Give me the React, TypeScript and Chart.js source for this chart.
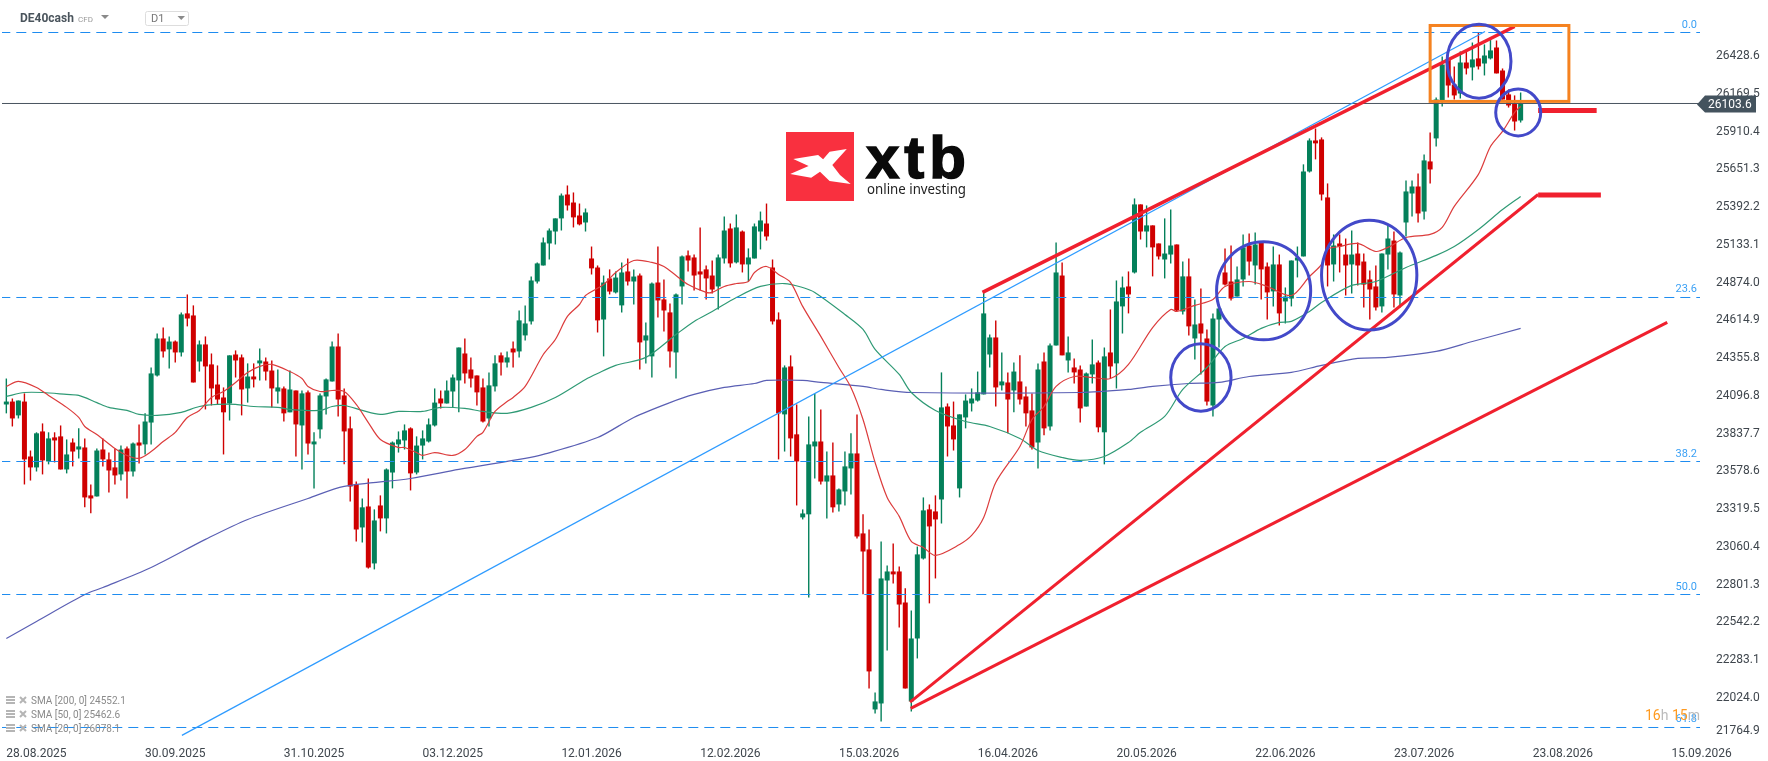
import { useEffect, useRef } from 'react';
import { Chart, registerables } from 'chart.js';

Chart.register(...registerables);

const opens = [
  24038, 24058, 23963, 24058, 23681, 23606, 23853, 23647, 23812, 23819,
  23592, 23777, 23729, 23743, 23414, 23407, 23729, 23661, 23606, 23558,
  23736, 23578, 23777, 23764, 23914, 24237, 24491, 24416, 24470, 24395,
  24663, 24649, 24333, 24450, 24313, 24175, 24086, 24045, 24381, 24361,
  24148, 24230, 24320, 24333, 24271, 24127, 24148, 23984, 24134, 23894,
  24121, 23764, 23867, 24093, 24196, 24436, 24100, 23874, 23489, 23194,
  23338, 22947, 23345, 23256, 23571, 23764, 23791, 23874, 23571, 23756,
  23784, 23894, 24079, 24045, 24127, 24203, 24388, 24278, 24237, 24155,
  23942, 24162, 24375, 24326, 24422, 24402, 24512, 24608, 24882, 24992,
  25143, 25225, 25315, 25479, 25424, 25335, 25287, 25040, 24978, 24621,
  24903, 24807, 24718, 24951, 24882, 24923, 24477, 24368, 24875, 24759,
  24670, 24395, 24848, 25061, 25047, 24951, 24965, 24923, 24848, 25040,
  25246, 25013, 25225, 24999, 25040, 25225, 25280, 24978, 24621, 23970,
  24299, 23833, 23263, 23284, 23750, 23784, 23509, 23551, 23352, 23441,
  23599, 23702, 23153, 23043, 21945, 21986, 22830, 22892, 22892, 22679,
  22000, 22432, 22981, 23318, 23304, 23386, 24024, 23894, 23462, 23949,
  24045, 24065, 24107, 24381, 24498, 24169, 24189, 24134, 24196, 24093,
  23997, 23777, 24333, 23887, 24443, 24923, 24340, 24292, 24278, 24024,
  24244, 24326, 23847, 24395, 24320, 24711, 24848, 24944, 25411, 25225,
  25267, 25143, 25033, 25067, 25136, 24676, 24917, 24491, 24594, 24491,
  24031, 24621, 24944, 24882, 24779, 24896, 25129, 24992, 25157, 24985,
  24814, 24999, 24745, 24765, 25026, 25054, 25637, 25850, 25857, 25459,
  24999, 25143, 25067, 24999, 25074, 25019, 24896, 24848, 24711, 25067,
  25163, 24786, 25287, 25486, 25534, 25362, 25706, 25864, 26124, 26406,
  26234, 26172, 26385, 26351, 26413, 26378, 26413, 26488, 26330, 26166,
  26104, 25987,
];
const highs = [
  24216, 24079, 24065, 24114, 23722, 23847, 23908, 23847, 23847, 23894,
  23798, 23805, 23874, 23805, 23489, 23736, 23805, 23708, 23736, 23756,
  23750, 23777, 23901, 23977, 24292, 24525, 24566, 24505, 24477, 24670,
  24793, 24718, 24477, 24505, 24388, 24306, 24155, 24375, 24409, 24381,
  24320, 24320, 24422, 24361, 24340, 24278, 24162, 24271, 24134, 24134,
  24134, 23847, 24114, 24216, 24470, 24525, 24148, 23956, 23509, 23393,
  23530, 23318, 23414, 23599, 23784, 23853, 23901, 23881, 23819, 23860,
  23942, 24148, 24134, 24203, 24244, 24429, 24491, 24361, 24237, 24216,
  24258, 24375, 24395, 24402, 24470, 24683, 24718, 24916, 25013, 25184,
  25246, 25315, 25486, 25541, 25493, 25417, 25383, 25122, 24992, 24923,
  24965, 24951, 25013, 25040, 24965, 24937, 24601, 24875, 25122, 24896,
  24731, 24800, 25061, 25095, 25067, 25253, 24992, 25026, 25067, 25328,
  25280, 25342, 25232, 25109, 25280, 25362, 25417, 25033, 24670, 24306,
  24375, 24038, 23318, 23956, 24114, 24004, 23715, 23777, 23462, 23715,
  23840, 23970, 23284, 23180, 22062, 23098, 22933, 23084, 22926, 22776,
  22624, 23063, 23400, 23352, 23414, 24258, 24045, 24058, 23970, 24107,
  24148, 24264, 24807, 24518, 24615, 24395, 24258, 24326, 24375, 24162,
  24114, 24320, 24395, 24457, 25150, 25013, 24505, 24354, 24306, 24258,
  24484, 24340, 24429, 24690, 24889, 24916, 24951, 25452, 25411, 25404,
  25267, 25143, 25315, 25376, 25136, 25019, 25040, 24759, 24834, 24553,
  24663, 24724, 25109, 25129, 24985, 25205, 25211, 25218, 25157, 25013,
  25122, 25067, 24841, 25026, 25122, 25686, 25864, 25932, 25871, 25555,
  25205, 25205, 25177, 25232, 25150, 25074, 24958, 24992, 25074, 25267,
  25225, 25088, 25575, 25575, 25623, 25754, 25905, 26145, 26426, 26406,
  26358, 26461, 26461, 26522, 26591, 26509, 26556, 26536, 26344, 26200,
  26159, 26179,
];
const lows = [
  23977, 23887, 23942, 23489, 23516, 23578, 23558, 23627, 23640, 23592,
  23565, 23613, 23668, 23332, 23291, 23407, 23613, 23434, 23489, 23516,
  23393, 23544, 23633, 23695, 23764, 24230, 24361, 24285, 24326, 24368,
  24574, 24189, 24264, 24004, 24031, 24038, 23695, 23928, 24223, 23963,
  24051, 24155, 24203, 24203, 24018, 24045, 23921, 23984, 23681, 23592,
  23695, 23462, 23805, 23970, 24196, 23956, 23627, 23372, 23098, 23091,
  22912, 22906, 23167, 23153, 23462, 23708, 23729, 23448, 23558, 23661,
  23777, 23887, 24011, 24045, 24018, 23984, 24182, 24155, 24031, 23914,
  23887, 24127, 24237, 24292, 24292, 24361, 24477, 24587, 24868, 24992,
  25033, 25136, 25232, 25369, 25253, 25267, 25225, 24930, 24532, 24368,
  24793, 24800, 24670, 24855, 24724, 24278, 24320, 24223, 24635, 24539,
  24292, 24216, 24724, 24951, 24820, 24820, 24759, 24800, 24690, 25006,
  24978, 25006, 24944, 24882, 25040, 25102, 25163, 24587, 23661, 23715,
  23681, 23345, 23249, 22714, 23530, 23489, 23256, 23297, 23304, 23345,
  23421, 23118, 22735, 22089, 21918, 21863, 22350, 22810, 22508, 22089,
  21931, 22295, 22974, 22673, 22844, 23221, 23681, 23722, 23400, 23874,
  23990, 24058, 24107, 24292, 24024, 24134, 23840, 23984, 24038, 23887,
  23729, 23599, 23826, 23860, 24443, 24375, 24258, 24182, 23914, 24024,
  24182, 23847, 23627, 24216, 24148, 24525, 24663, 24937, 25170, 25116,
  24917, 25033, 24903, 25006, 24676, 24656, 24512, 24347, 24244, 24031,
  23956, 24429, 24855, 24752, 24779, 24848, 24923, 24861, 24759, 24621,
  24711, 24580, 24594, 24711, 24910, 25054, 25630, 25720, 25438, 24848,
  24882, 24944, 24786, 24800, 24855, 24704, 24621, 24683, 24670, 24965,
  24704, 24704, 25191, 25328, 25287, 25308, 25555, 25809, 26083, 26145,
  26131, 26138, 26303, 26262, 26337, 26296, 26406, 26310, 26131, 26076,
  25918, 25973,
];
const closes = [
  24058, 23942, 24065, 23661, 23606, 23840, 23654, 23805, 23791, 23592,
  23695, 23715, 23750, 23400, 23393, 23722, 23661, 23585, 23551, 23729,
  23578, 23770, 23756, 23921, 24251, 24491, 24402, 24470, 24395, 24656,
  24628, 24189, 24450, 24299, 24148, 24072, 23984, 24375, 24340, 24141,
  24230, 24210, 24340, 24264, 24148, 24155, 23977, 24141, 23901, 24114,
  23770, 23784, 24100, 24210, 24436, 24072, 23853, 23475, 23180, 23332,
  22919, 23242, 23256, 23592, 23777, 23798, 23860, 23565, 23756, 23805,
  23901, 24051, 24045, 24134, 24223, 24429, 24251, 24216, 24121, 23921,
  24169, 24320, 24326, 24361, 24395, 24615, 24594, 24889, 25006, 25150,
  25232, 25315, 25472, 25404, 25322, 25274, 25356, 24972, 24615, 24875,
  24813, 24909, 24944, 24882, 24916, 24464, 24512, 24868, 24752, 24683,
  24402, 24793, 25054, 25026, 24923, 24930, 24903, 24827, 25047, 25232,
  25006, 25253, 24999, 25047, 25260, 25301, 25191, 24608, 23977, 24292,
  23805, 23647, 23290, 23764, 23784, 23509, 23551, 23332, 23455, 23613,
  23702, 23132, 23029, 22206, 22000, 22844, 22892, 22872, 22665, 22089,
  22432, 23009, 23311, 23201, 23249, 24018, 23887, 23798, 23970, 24065,
  24079, 24121, 24663, 24498, 24155, 24196, 24072, 24264, 24072, 23977,
  23743, 24278, 23874, 24443, 24944, 24375, 24395, 24258, 24011, 24251,
  24313, 23881, 24368, 24299, 24745, 24841, 24793, 25411, 25225, 25267,
  25116, 25054, 25074, 25129, 24683, 24917, 24574, 24587, 24525, 24058,
  24628, 24697, 24861, 24765, 24896, 25116, 25019, 25136, 24965, 24807,
  24999, 24663, 24779, 25026, 25047, 25637, 25850, 25830, 25479, 24992,
  25129, 25122, 24992, 25067, 24992, 24861, 24827, 24704, 25074, 25177,
  24793, 25081, 25500, 25534, 25349, 25713, 25651, 26131, 26371, 26227,
  26159, 26385, 26344, 26406, 26358, 26433, 26468, 26310, 26131, 26090,
  25980, 26104,
];

// moving averages, every few candles
const sma20Index = [0, 2, 5, 7, 10, 12, 13, 15, 18, 20, 22, 24, 26, 28, 30, 32, 34, 36, 38, 40, 42, 44, 47, 49, 50, 52, 54, 56, 58, 60, 62, 65, 66, 68, 69, 71, 74, 76, 78, 79, 81, 83, 84, 86, 89, 91, 93, 95, 96, 99, 101, 104, 107, 109, 111, 113, 116, 117, 119, 121, 123, 124, 126, 128, 130, 132, 135, 138, 140, 142, 144, 146, 148, 150, 152, 154, 158, 160, 162, 164, 168, 170, 172, 174, 177, 180, 183, 186, 190, 193, 194, 197, 200, 202, 206, 209, 213, 216, 218, 219, 221, 224, 227, 229, 232, 236, 238, 240, 244, 246, 248, 250, 251];
const sma20Value = [24162, 24196, 24155, 24100, 24018, 23949, 23887, 23832, 23736, 23688, 23668, 23715, 23784, 23847, 23949, 23997, 24086, 24127, 24189, 24258, 24299, 24313, 24264, 24216, 24162, 24127, 24134, 24127, 24038, 23914, 23798, 23743, 23743, 23708, 23688, 23708, 23688, 23729, 23819, 23847, 23990, 24058, 24086, 24162, 24381, 24484, 24642, 24724, 24786, 24861, 24944, 25026, 25013, 24985, 24923, 24861, 24807, 24807, 24848, 24868, 24882, 24944, 24985, 24930, 24875, 24711, 24505, 24292, 24155, 23935, 23640, 23400, 23270, 23098, 23057, 23002, 23077, 23139, 23263, 23503, 23750, 23935, 24024, 24162, 24230, 24223, 24216, 24313, 24566, 24690, 24676, 24718, 24759, 24848, 24882, 24848, 24786, 24916, 24999, 25102, 25122, 25143, 25088, 25116, 25184, 25205, 25253, 25397, 25617, 25809, 25912, 26042, 26083];
const sma50Index = [0, 3, 6, 10, 12, 15, 17, 20, 22, 25, 29, 32, 35, 38, 41, 45, 47, 52, 54, 56, 59, 62, 65, 69, 72, 76, 79, 83, 87, 91, 96, 98, 101, 106, 111, 114, 117, 121, 125, 129, 132, 134, 139, 142, 144, 148, 150, 154, 159, 163, 168, 171, 175, 178, 182, 186, 188, 192, 195, 199, 202, 205, 208, 211, 213, 216, 218, 223, 227, 232, 237, 240, 244, 248, 251];
const sma50Value = [24093, 24120, 24120, 24107, 24100, 24051, 24018, 23997, 23970, 23963, 23984, 24024, 24038, 24038, 24024, 24018, 24004, 23997, 24024, 24031, 23997, 23970, 23990, 23990, 24018, 24011, 23990, 23977, 24018, 24086, 24210, 24251, 24306, 24361, 24518, 24608, 24676, 24772, 24848, 24868, 24841, 24807, 24656, 24553, 24416, 24244, 24120, 23997, 23921, 23887, 23805, 23722, 23674, 23654, 23681, 23777, 23847, 23956, 24141, 24292, 24436, 24491, 24560, 24601, 24608, 24676, 24738, 24855, 24882, 24978, 25061, 25122, 25239, 25376, 25466];
const sma200Index = [0, 5, 13, 16, 24, 33, 40, 50, 56, 67, 75, 86, 89, 98, 104, 110, 114, 119, 124, 126, 132, 135, 142, 145, 150, 178, 186, 190, 196, 201, 206, 213, 218, 224, 229, 237, 243, 251];
const sma200Value = [22432, 22549, 22734, 22782, 22919, 23112, 23249, 23393, 23476, 23530, 23592, 23668, 23695, 23811, 23949, 24051, 24107, 24155, 24182, 24203, 24203, 24189, 24162, 24141, 24120, 24120, 24141, 24162, 24182, 24189, 24230, 24258, 24306, 24354, 24361, 24402, 24470, 24560];

const lastPrice = 26103.6;
const fibLevels = [26590.8, 24772.2, 23646.6, 22733.8, 21821.1];
const fibNames = ['0.0', '23.6', '38.2', '50.0', '61.8'];

// hand-drawn objects: candle index / price pairs
const blueTrendIndex = [29.1, 245.1];
const blueTrendPrice = [21767, 26598];
const upperWedgeIndex = [161.8, 250];
const upperWedgePrice = [24807, 26632];
const midRayIndex = [149.8, 253.9];
const midRayPrice = [21995, 25479];
const midStubIndex = [253.9, 264.3];
const midStubPrice = [25476, 25476];
const lowRayIndex = [149.9, 275.3];
const lowRayPrice = [21952, 24601];
const topStubIndex = [253.9, 263.6];
const topStubPrice = [26056, 26056];
const boxIndex = [236, 259];
const boxPrice = [26639, 26118];
const circleIndex = [244.1, 250.6, 225.9, 208.4, 198];
const circlePrice = [26394, 26042, 24926, 24818, 24223];
const circleHalfCandles = [5.3, 3.73, 7.9, 7.8, 5];
const circleHalfPrice = [254, 161, 377, 336, 231];

const dateTicks = [0, 23, 46, 69, 92, 115, 138, 161, 184, 207, 230, 253, 276];
const dateLabels = ['28.08.2025', '30.09.2025', '31.10.2025', '03.12.2025', '12.01.2026', '12.02.2026', '15.03.2026', '16.04.2026', '20.05.2026', '22.06.2026', '23.07.2026', '23.08.2026', '15.09.2026'];
const priceTicks = [26428.6, 26169.5, 25910.4, 25651.3, 25392.2, 25133.1, 24874.0, 24614.9, 24355.8, 24096.8, 23837.7, 23578.6, 23319.5, 23060.4, 22801.3, 22542.2, 22283.1, 22024.0, 21795];
const priceLabels = ['26428.6', '26169.5', '25910.4', '25651.3', '25392.2', '25133.1', '24874.0', '24614.9', '24355.8', '24096.8', '23837.7', '23578.6', '23319.5', '23060.4', '22801.3', '22542.2', '22283.1', '22024.0', '21764.9'];
const legendLines = ['SMA [200, 0] 24552.1', 'SMA [50, 0] 25462.6', 'SMA [20, 0] 26078.1'];

const UP = '#04805a';
const DOWN = '#cf0000';
const RED = '#f0202e';
const candleColors = closes.map((c, i) => (c >= opens[i] ? UP : DOWN));
const pairs = (xs: number[], ys: number[]) => xs.map((x, i) => ({ x, y: ys[i] }));

function lineSet(data: { x: number, y: number }[], color: string, width: number, order: number, extra = {}) {
    return {
        type: 'line' as const,
        data,
        borderColor: color,
        borderWidth: width,
        pointRadius: 0,
        tension: 0,
        order,
        ...extra
    };
}

// no room kept for half a tick label at the ends of the axes
function dropPadding(s: any) {
    s.paddingTop = 0;
    s.paddingBottom = 0;
    s.paddingLeft = 0;
    s.paddingRight = 0;
}

const overlayPlugin = {
    id: 'overlay',
    afterDatasetsDraw(chart: Chart) {
        const { ctx, scales } = chart;
        const xs = scales.x;
        const ys = scales.y;
        const area = chart.chartArea;
        ctx.save();

        // fibonacci captions
        ctx.font = '11px Roboto';
        ctx.fillStyle = '#3aa0f5';
        ctx.textAlign = 'right';
        ctx.textBaseline = 'alphabetic';
        fibLevels.forEach((lvl, i) => {
            ctx.fillText(fibNames[i], 1697, ys.getPixelForValue(lvl) - 5);
        });

        // orange box and blue circles
        ctx.strokeStyle = '#f58220';
        ctx.lineWidth = 3;
        const bx = xs.getPixelForValue(boxIndex[0]);
        const by = ys.getPixelForValue(boxPrice[0]);
        ctx.strokeRect(bx, by, xs.getPixelForValue(boxIndex[1]) - bx, ys.getPixelForValue(boxPrice[1]) - by);
        ctx.strokeStyle = '#4349c9';
        circleIndex.forEach((ci, i) => {
            const cx = xs.getPixelForValue(ci);
            const cy = ys.getPixelForValue(circlePrice[i]);
            const rx = xs.getPixelForValue(ci + circleHalfCandles[i]) - cx;
            const ry = cy - ys.getPixelForValue(circlePrice[i] + circleHalfPrice[i]);
            ctx.beginPath();
            ctx.ellipse(cx, cy, rx, ry, 0, 0, Math.PI * 2);
            ctx.stroke();
        });

        // last price tag
        const py = ys.getPixelForValue(lastPrice);
        ctx.fillStyle = '#44535e';
        ctx.beginPath();
        ctx.moveTo(area.right - 3, py + 1);
        ctx.lineTo(area.right + 5, py - 8);
        ctx.lineTo(1756, py - 8);
        ctx.lineTo(1756, py + 9);
        ctx.lineTo(area.right + 5, py + 9);
        ctx.closePath();
        ctx.fill();
        ctx.fillStyle = '#ffffff';
        ctx.font = '12px Roboto';
        ctx.textAlign = 'left';
        ctx.textBaseline = 'middle';
        ctx.fillText(String(lastPrice), 1708, py + 1.5);

        // logo
        ctx.fillStyle = '#f9303f';
        ctx.fillRect(786, 132, 68, 69);
        ctx.fillStyle = '#ffffff';
        ctx.beginPath();
        [[793.3, 159], [818.1, 155], [823.1, 159.3], [829.6, 151.7], [846.8, 149], [832.3, 165], [840, 175], [850.7, 184], [829.6, 181], [820, 171.7], [811.2, 177.7], [790.2, 174], [808.6, 166]].forEach(([x, y], i) => {
            if (i === 0) ctx.moveTo(x, y);
            else ctx.lineTo(x, y);
        });
        ctx.closePath();
        ctx.fill();
        ctx.fillStyle = '#0a0a0a';
        ctx.strokeStyle = '#0a0a0a';
        ctx.lineWidth = 1.5;
        ctx.textBaseline = 'alphabetic';
        ctx.font = 'bold 60px "Liberation Sans"';
        (ctx as any).letterSpacing = '5px';
        ctx.fillText('xtb', 866, 178);
        ctx.strokeText('xtb', 866, 178);
        (ctx as any).letterSpacing = '0px';
        ctx.fillStyle = '#222222';
        ctx.font = '15px "Noto Sans"';
        ctx.fillText('online investing', 867, 194, 99);

        // header
        ctx.fillStyle = '#4a545c';
        ctx.font = 'bold 12px Roboto';
        ctx.textBaseline = 'middle';
        ctx.fillText('DE40cash', 20, 19);
        ctx.fillStyle = '#999999';
        ctx.font = '8px Roboto';
        ctx.fillText('CFD', 78, 20);
        ctx.fillStyle = '#8a8a8a';
        [[101, 109, 15, 19], [177.5, 185, 16, 20]].forEach(([a, b, t, u]) => {
            ctx.beginPath();
            ctx.moveTo(a, t);
            ctx.lineTo(b, t);
            ctx.lineTo((a + b) / 2, u);
            ctx.closePath();
            ctx.fill();
        });
        ctx.strokeStyle = '#dddddd';
        ctx.lineWidth = 1;
        ctx.beginPath();
        ctx.roundRect(145.5, 11.5, 43, 14, 2);
        ctx.stroke();
        ctx.fillStyle = '#777777';
        ctx.font = '11px Roboto';
        ctx.fillText('D1', 151, 19.5);

        // indicator list, bottom left
        ctx.font = '10px Roboto';
        legendLines.forEach((line, i) => {
            const y = 701 + i * 14;
            ctx.fillStyle = '#b5b5b5';
            ctx.fillRect(6, y - 5, 9, 2);
            ctx.fillRect(6, y - 2, 9, 2);
            ctx.fillRect(6, y + 1, 9, 2);
            ctx.strokeStyle = '#b5b5b5';
            ctx.lineWidth = 2;
            ctx.beginPath();
            ctx.moveTo(20, y - 4);
            ctx.lineTo(26, y + 2);
            ctx.moveTo(26, y - 4);
            ctx.lineTo(20, y + 2);
            ctx.stroke();
            ctx.fillStyle = '#8a8a8a';
            ctx.fillText(line, 31, y);
        });

        // candle countdown
        ctx.font = '14px Roboto';
        ctx.textAlign = 'left';
        let tx = 1645;
        [['16', '#ff9a1f'], ['h ', '#bbbbbb'], ['15', '#ff9a1f'], ['m', '#bbbbbb']].forEach(([text, color]) => {
            ctx.fillStyle = color;
            ctx.fillText(text, tx, 716);
            tx += ctx.measureText(text).width;
        });
        ctx.restore();
    }
};

function App() {
    const canvasRef = useRef<HTMLCanvasElement>(null);

    useEffect(() => {
        if (!canvasRef.current) return;

        const wicks = closes.map((_, i) => ({ x: i, y: [lows[i], highs[i]] }));
        const bodies = closes.map((c, i) => ({ x: i, y: [opens[i], c] }));
        const fibSets = fibLevels.map(lvl => lineSet(
            [{ x: -1, y: lvl }, { x: 281, y: lvl }], '#1e8cf0', 1, 5, { borderDash: [10, 6] }
        ));

        const chart = new Chart(canvasRef.current, {
            type: 'bar',
            data: {
                datasets: [
                    { data: wicks, backgroundColor: candleColors, barThickness: 1.4, grouped: false, inflateAmount: 0, order: 20 },
                    { data: bodies, backgroundColor: candleColors, barThickness: 5, grouped: false, inflateAmount: 0, order: 19 },
                    lineSet(pairs(sma200Index, sma200Value), '#5a5fb4', 1.2, 8, { tension: 0.3 }),
                    lineSet(pairs(sma50Index, sma50Value), '#2f9a75', 1.2, 7, { tension: 0.3 }),
                    lineSet(pairs(sma20Index, sma20Value), '#dc3c3c', 1.2, 6, { tension: 0.3 }),
                    ...fibSets,
                    lineSet([{ x: -1, y: lastPrice }, { x: 281, y: lastPrice }], '#4a5560', 1, 4),
                    lineSet(pairs(blueTrendIndex, blueTrendPrice), '#2e9bff', 1.2, 3),
                    lineSet(pairs(upperWedgeIndex, upperWedgePrice), RED, 3.5, 2),
                    lineSet(pairs(midRayIndex, midRayPrice), RED, 3, 2),
                    lineSet(pairs(midStubIndex, midStubPrice), RED, 5, 2),
                    lineSet(pairs(lowRayIndex, lowRayPrice), RED, 3, 2),
                    lineSet(pairs(topStubIndex, topStubPrice), RED, 5, 2)
                ] as any
            },
            options: {
                animation: false,
                responsive: false,
                devicePixelRatio: 1,
                events: [],
                layout: { padding: { left: 2, top: 0, right: 0, bottom: 0 } },
                plugins: { legend: { display: false }, tooltip: { enabled: false } },
                scales: {
                    x: {
                        type: 'linear',
                        min: -0.718,
                        max: 280.73,
                        offset: false,
                        grid: { display: false },
                        border: { display: false },
                        afterFit: (s: any) => { s.height = 23; dropPadding(s); },
                        afterBuildTicks: (s: any) => { s.ticks = dateTicks.map(value => ({ value })); },
                        ticks: {
                            autoSkip: false,
                            maxRotation: 0,
                            minRotation: 0,
                            align: 'start',
                            padding: 1,
                            color: '#3f464d',
                            font: { family: 'Roboto', size: 12 },
                            callback: (v: any) => dateLabels[dateTicks.indexOf(Number(v))]
                        }
                    },
                    y: {
                        type: 'linear',
                        position: 'right',
                        min: 21749,
                        max: 26813.9,
                        grid: { display: false },
                        border: { display: false },
                        afterFit: (s: any) => { s.width = 68; dropPadding(s); },
                        afterBuildTicks: (s: any) => { s.ticks = priceTicks.map(value => ({ value })); },
                        ticks: {
                            autoSkip: false,
                            padding: 8,
                            color: '#3f464d',
                            font: { family: 'Roboto', size: 12 },
                            callback: (v: any) => priceLabels[priceTicks.indexOf(Number(v))]
                        }
                    }
                }
            } as any,
            plugins: [overlayPlugin as any]
        });

        return () => chart.destroy();
    }, []);

    return (
        <div style={{ position: 'fixed', left: 0, top: 0, width: 1768, height: 761, background: '#fff' }}>
            <canvas ref={canvasRef} width={1768} height={761} style={{ display: 'block' }} />
        </div>
    );
}

export default App;
